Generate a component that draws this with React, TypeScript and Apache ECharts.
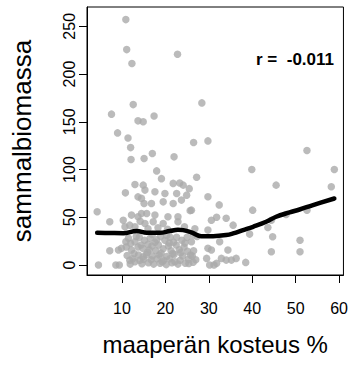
import React, { useEffect, useRef } from "react";
import * as echarts from "echarts";

// soil moisture (%) of each plot
const moistureX = [
  10.9, 11.1, 12.3, 22.8, 12.6, 7.6, 13.7, 14.9, 17.4, 9.0, 11.4, 12.0, 28.4, 26.5, 29.8,
  12.1, 15.1, 17.0, 22.0, 18.0, 27.2, 19.1, 39.9, 52.6, 58.9, 45.5, 58.2, 40.1, 52.6, 47.8,
  44.4, 43.6, 39.4, 44.7, 51.0, 44.4, 51.0, 38.5,
  29.8, 32.4, 30.6, 31.8, 34.0, 35.6, 29.8, 32.5, 29.8, 30.6, 34.4, 29.5, 30.2, 31.8, 32.9,
  34.0, 35.2, 36.3, 26.0, 26.2, 25.4, 26.5, 31.2,
  4.3, 4.6, 7.2, 7.2, 8.6, 9.4, 10.3, 10.8,
  13.0, 14.9, 15.3, 17.6, 19.9, 21.8, 24.1, 22.6, 24.9, 13.7, 14.5, 23.3, 25.5,
  15.1, 16.8, 19.5, 21.8, 23.7, 14.5, 15.7, 12.2, 13.7, 17.6, 20.6, 22.9, 25.7,
  10.7, 11.8, 13.0, 15.3, 17.2, 19.5, 22.9, 16.0, 18.3, 20.5, 24.4, 26.8, 14.2,
  10.9, 11.5, 12.0, 13.0, 14.0, 15.2, 16.5, 17.6, 18.9, 19.9, 21.1, 21.9, 23.8, 25.0, 26.0, 27.3,
  9.2, 9.9, 12.2, 13.7, 14.4, 16.3, 16.9, 17.8, 18.4, 19.5, 20.7, 21.3, 22.5, 23.2, 24.3, 25.1,
  11.2, 13.8, 14.9, 15.6, 17.0, 18.6, 20.3, 22.0, 24.0, 25.8,
  11.8, 12.5, 14.1, 15.0, 16.7, 18.1, 19.6, 21.0, 23.4, 25.3, 27.0,
  11.9, 13.0, 14.6, 16.1, 17.3, 18.8, 20.2, 21.5, 22.9, 24.6,
  12.8, 15.9, 19.0, 21.7, 23.5, 13.3, 17.0, 20.3, 22.6, 24.5, 16.0, 18.0, 20.9, 14.8, 26.5,
  11.0, 19.3, 22.2, 26.4,
];

// moss biomass of each plot
const biomassY = [
  257, 225.6, 211, 220.7, 168, 158, 151, 150, 156, 138.4, 133, 123, 169.8, 128.3, 130,
  110.5, 111.6, 116.8, 113.3, 98.6, 92, 90.5, 100, 120, 100, 83.7, 82, 57.5, 57.5, 53,
  47, 39.4, 32.4, 29.6, 26, 14, 14, 2.8,
  71.5, 63, 47, 50, 49, 41.8, 36.6, 24.4, 17.5, 15.7, 15.7, 7, 0, 1.8, 7,
  5.2, 5.2, 7, 57.5, 9.4, 1.7, 31.4, 0,
  55.8, 0, 45.3, 15, 0, 0, 47, 75.6,
  84.4, 83.7, 78.5, 76.7, 75, 85.5, 83.7, 75, 73.2, 71.4, 69.8, 86, 80,
  64.5, 64.5, 66.2, 64.5, 68, 54, 54, 52.3, 50.5, 52.3, 50.5, 50.5, 57,
  40, 41.8, 40, 43.6, 45.3, 43.6, 45.3, 38, 39, 37.5, 40, 38, 46,
  24.4, 28, 22.7, 24.4, 29, 26, 28, 24, 30, 26, 29, 24, 26, 29, 24.5, 30,
  15.7, 17.5, 15.7, 19, 21, 16, 20, 15, 21, 17, 20, 15, 21, 16, 19, 14.5,
  10, 10.5, 8.7, 11, 9.5, 10.5, 9, 11, 9.5, 10.5,
  5, 6.5, 5, 6, 5.5, 6.5, 5, 6.5, 5, 6, 5.5,
  1, 3.5, 1.5, 2.5, 1, 2, 0.5, 2.5, 1, 2,
  12, 13.5, 12.5, 12, 13, 30, 32, 31, 29, 23, 21.5, 26.5, 23.2, 17.5, 15,
  19, 3.5, 3.5, 3,
];

// smoothed (loess-like) trend
const smoothX = [4.3, 7, 10.3, 13.4, 15.7, 18.7, 21.0, 22.9, 24.1, 26, 28.3, 31, 34, 35.6, 37.9, 40.2, 43.2, 45.5, 48.6, 50.9, 54, 58.9];
const smoothY = [33.8, 33.6, 33.3, 35.6, 33.8, 33.8, 35.6, 37.0, 36.6, 34.2, 30.3, 30.3, 31.4, 33.1, 36.6, 40.1, 45.3, 50.6, 55.1, 58.2, 62.8, 69.7];

const xTicks = [10, 20, 30, 40, 50, 60];
const yTicks = [0, 50, 100, 150, 200, 250];

const xTitle = "maaperän kosteus %";
const yTitle = "sammalbiomassa";
const corrLabel = "r =  -0.011";

export default function App() {
  const ref = useRef<HTMLDivElement>(null);
  useEffect(() => {
    const chart = echarts.init(ref.current!, null, { renderer: "svg" });
    const font = "'Liberation Sans', Arial, Helvetica, sans-serif";
    const points = moistureX.map((x, i) => [x, biomassY[i]]);
    const trend = smoothX.map((x, i) => [x, smoothY[i]]);
    chart.setOption({
      animation: false,
      grid: {
        left: 87,
        right: 7,
        top: 7,
        bottom: 90,
        show: true,
        borderColor: "#000",
        borderWidth: 1,
        backgroundColor: "transparent",
      },
      xAxis: {
        type: "value",
        min: 1.96,
        max: 61,
        axisLine: { show: true, onZero: false, lineStyle: { color: "#000", width: 1 } },
        axisTick: { show: true, length: 8, customValues: xTicks, lineStyle: { color: "#000", width: 1 } },
        axisLabel: { customValues: xTicks, fontSize: 16, color: "#000", margin: 25, fontFamily: font },
        splitLine: { show: false },
        name: xTitle,
        nameLocation: "middle",
        nameGap: 57,
        nameTextStyle: { fontSize: 24, color: "#000", fontFamily: font },
      },
      yAxis: {
        type: "value",
        min: -10.4,
        max: 270.2,
        axisLine: { show: true, onZero: false, lineStyle: { color: "#000", width: 1 } },
        axisTick: { show: true, length: 8, customValues: yTicks, lineStyle: { color: "#000", width: 1 } },
        axisLabel: { customValues: yTicks, fontSize: 16, color: "#000", margin: 10, rotate: 90, fontFamily: font },
        splitLine: { show: false },
        name: yTitle,
        nameLocation: "middle",
        nameGap: 52,
        nameTextStyle: { fontSize: 26, color: "#000", fontFamily: font },
      },
      series: [
        {
          type: "scatter",
          data: points,
          symbol: "circle",
          symbolSize: 7.5,
          itemStyle: { color: "#aaaaaa" },
          silent: true,
        },
        {
          type: "line",
          data: trend,
          smooth: 0.4,
          showSymbol: false,
          symbol: "none",
          lineStyle: { color: "#000", width: 4.5, cap: "round", join: "round" },
          silent: true,
        },
      ],
      graphic: [
        {
          type: "text",
          right: 17,
          top: 51,
          style: {
            text: corrLabel,
            font: `bold 17px ${font}`,
            fill: "#000",
          },
        },
      ],
    });
    return () => chart.dispose();
  }, []);
  return (
    <div
      ref={ref}
      style={{ position: "absolute", left: 0, top: 0, width: 351, height: 365, background: "#fff" }}
    />
  );
}
